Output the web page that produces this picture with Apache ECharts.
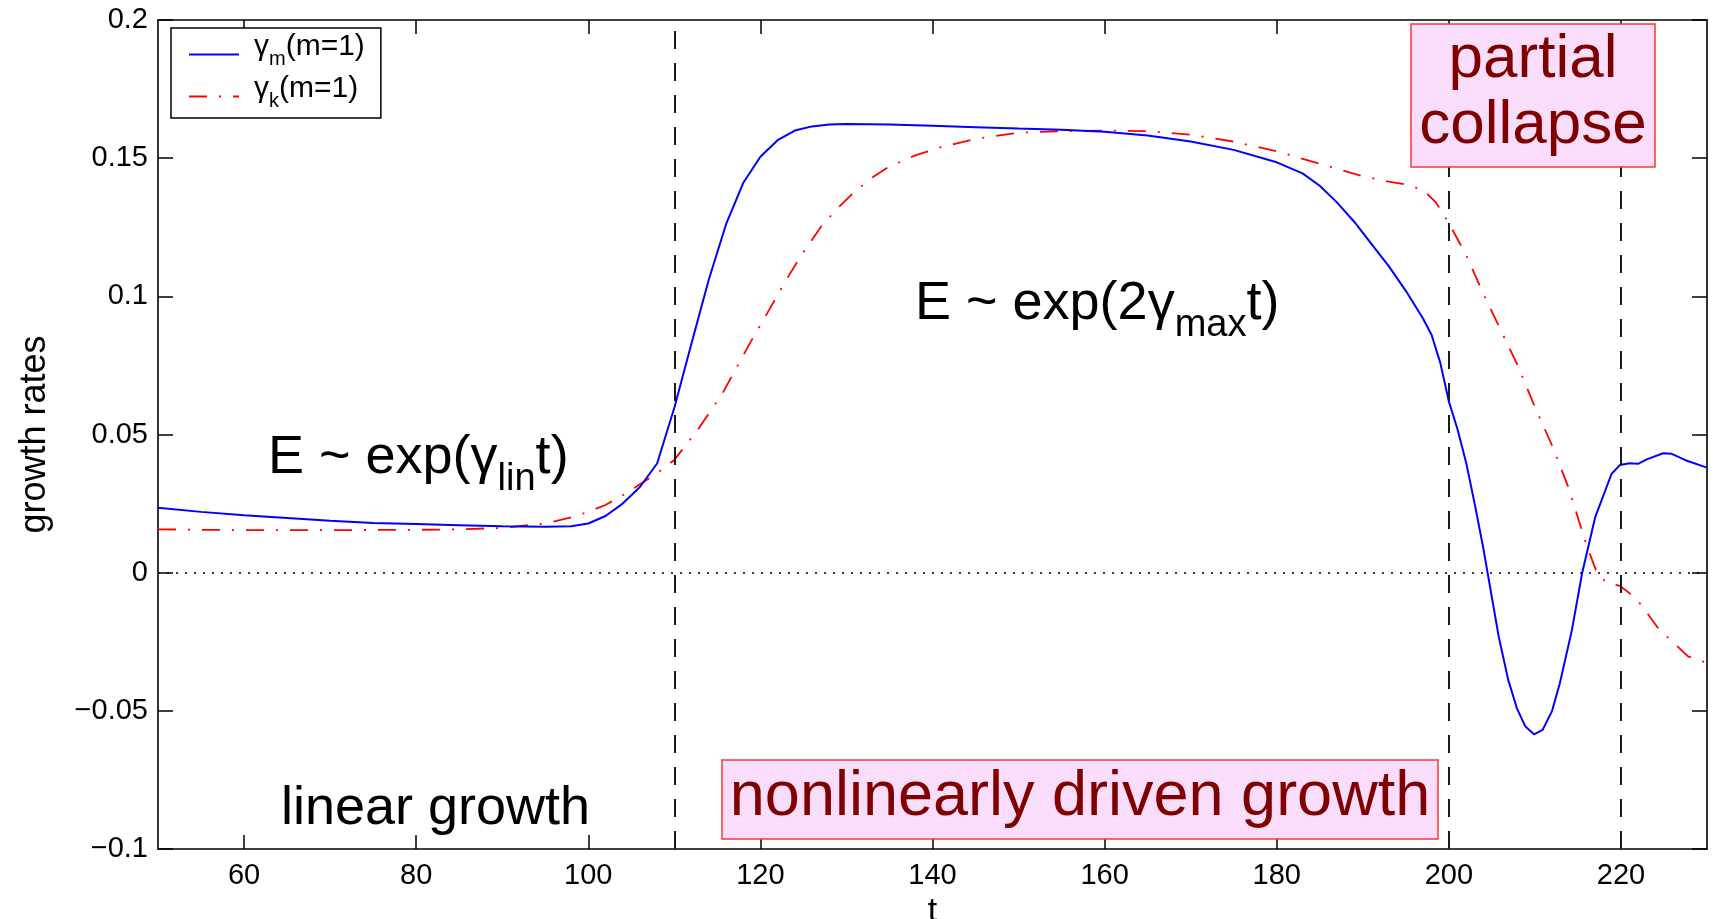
<!DOCTYPE html>
<html>
<head>
<meta charset="utf-8">
<script src="https://cdn.jsdelivr.net/npm/echarts@6/dist/echarts.min.js"></script>
<style>
  html, body { margin: 0; padding: 0; background: #fff; }
  #chart { width: 1715px; height: 919px; }
</style>
</head>
<body>
<div id="chart"></div>
<script>
// Growth rate of the m=1 mode, from the magnetic energy (gamma_m)
const tM = [50, 55, 60, 65, 70, 75, 80, 85, 90, 95, 98, 100, 102, 104, 106, 108, 110,
  112, 114, 116, 118, 120, 122, 124, 126, 128, 130, 135, 140, 145, 150, 155, 160,
  165, 170, 175, 180, 183, 185, 187, 189, 191, 193, 195, 197, 198, 199, 200, 201,
  202, 203, 204, 204.5, 205.8, 206.9, 207.9, 208.9, 209.9, 210.9, 212, 212.9,
  214.3, 215.5, 217, 218.9, 219.9, 221, 222, 223, 224.9, 225.9, 227.5, 230];
const gammaM = [0.0235, 0.0220, 0.0208, 0.0198, 0.0188, 0.0180, 0.0176, 0.0172, 0.0168,
  0.0166, 0.0168, 0.0178, 0.0205, 0.0250, 0.0310, 0.0395, 0.0597,
  0.0830, 0.1060, 0.1260, 0.1410, 0.1505, 0.1565, 0.1600, 0.1615, 0.1622, 0.1624,
  0.1622, 0.1617, 0.1612, 0.1607, 0.1603, 0.1596,
  0.1582, 0.1560, 0.1530, 0.1485, 0.1445, 0.1400, 0.1340, 0.1270, 0.1190, 0.1110,
  0.1020, 0.0920, 0.0860, 0.0760, 0.0620, 0.0520,
  0.0400, 0.0250, 0.0090, 0.0000, -0.0232, -0.0388, -0.0490, -0.0557, -0.0585,
  -0.0569, -0.0500, -0.0400,
  -0.0208, 0.0000, 0.0200, 0.0357, 0.0390, 0.0396, 0.0394, 0.0410, 0.0432, 0.0430,
  0.0407, 0.0380];

// Growth rate of the m=1 mode, from the kinetic energy (gamma_k)
const tK = [50, 55, 60, 70, 80, 85, 90, 95, 98, 100, 102, 104, 106, 108, 110, 112.9,
  115.6, 118.9, 121, 123, 125, 127, 129, 131, 133, 135, 138, 141, 145, 150, 155,
  160, 165, 170, 175, 180, 185, 190, 193, 195, 197, 198.5, 200, 202, 204, 206, 208,
  210, 212, 214, 215.1, 216, 217.2, 218.3, 219.9, 221.4, 222.4, 224.2, 225.3,
  227.8, 229.3, 230];
const gammaK = [0.0157, 0.0155, 0.0154, 0.0154, 0.0155, 0.0157, 0.0162, 0.0178, 0.0200,
  0.0220, 0.0245, 0.0280, 0.0320, 0.0360, 0.0408, 0.0525,
  0.0649, 0.0837, 0.0950, 0.1060, 0.1160, 0.1250, 0.1320, 0.1380, 0.1430, 0.1470,
  0.1510, 0.1540, 0.1570, 0.1592, 0.1598,
  0.1600, 0.1598, 0.1585, 0.1560, 0.1525, 0.1480, 0.1435, 0.1415, 0.1405, 0.1385,
  0.1340, 0.1265, 0.1150, 0.1010, 0.0880, 0.0750,
  0.0600, 0.0460, 0.0300, 0.0189, 0.0100, 0.0000, -0.0036, -0.0048, -0.0084, -0.0118,
  -0.0196, -0.0230, -0.0303, -0.0320, -0.0325];

// Phase boundaries (dashed verticals)
const phaseBounds = [110, 200, 220];

// Axis ticks
const xTicks = [60, 80, 100, 120, 140, 160, 180, 200, 220];
const yTickValues = [-0.1, -0.05, 0, 0.05, 0.1, 0.15, 0.2];
const yTickLabels = ['\u22120.1', '\u22120.05', '0', '0.05', '0.1', '0.15', '0.2'];

const FONT = '"Liberation Sans", Arial, Helvetica, sans-serif';
const chart = echarts.init(document.getElementById('chart'), null, { renderer: 'canvas' });

function yLabel(v) {
  for (let i = 0; i < yTickValues.length; i++) {
    if (Math.abs(v - yTickValues[i]) < 1e-9) return yTickLabels[i];
  }
  return '';
}

const axisLine = { show: true, onZero: false, lineStyle: { color: '#000', width: 1.6 } };
const xRange = { type: 'value', min: 50, max: 230 };
const yRange = { type: 'value', min: -0.1, max: 0.2, interval: 0.05 };
const tickStyle = { color: '#000', width: 1.5 };

const mainRich = {
  m: { fontSize: 54, fontFamily: FONT, color: '#000' },
  s: { fontSize: 38, fontFamily: FONT, color: '#000', padding: [43, 0, 0, 0] }
};

chart.setOption({
  animation: false,
  backgroundColor: '#fff',
  grid: { left: 158, right: 8, top: 20, bottom: 70, containLabel: false,
    outerBoundsMode: 'none' },
  xAxis: [
    Object.assign({}, xRange, {
      position: 'bottom',
      name: 't', nameLocation: 'middle', nameGap: 44,
      nameTextStyle: { fontSize: 34, fontFamily: FONT, color: '#000' },
      axisLine: axisLine,
      axisTick: { show: true, inside: true, length: 14, customValues: xTicks, lineStyle: tickStyle },
      axisLabel: { show: true, customValues: xTicks, margin: 12,
        fontSize: 29, fontFamily: FONT, color: '#000' },
      splitLine: { show: false }
    }),
    Object.assign({}, xRange, {
      position: 'top',
      axisLine: axisLine,
      axisTick: { show: true, inside: true, length: 14, customValues: xTicks, lineStyle: tickStyle },
      axisLabel: { show: false },
      splitLine: { show: false }
    })
  ],
  yAxis: [
    Object.assign({}, yRange, {
      position: 'left',
      name: 'growth rates', nameLocation: 'middle', nameGap: 105,
      nameTextStyle: { fontSize: 36, fontFamily: FONT, color: '#000' },
      axisLine: axisLine,
      axisTick: { show: true, inside: true, length: 15, lineStyle: tickStyle },
      axisLabel: { show: true, margin: 10, fontSize: 29, fontFamily: FONT,
        color: '#000', formatter: yLabel },
      splitLine: { show: false }
    }),
    Object.assign({}, yRange, {
      position: 'right',
      axisLine: axisLine,
      axisTick: { show: true, inside: true, length: 15, lineStyle: tickStyle },
      axisLabel: { show: false },
      splitLine: { show: false }
    })
  ],
  legend: {
    orient: 'vertical',
    left: 171, top: 28,
    padding: [4, 16, 7, 17],
    itemGap: 5,
    itemWidth: 50, itemHeight: 14,
    backgroundColor: '#fff',
    borderColor: '#000', borderWidth: 1.5, borderRadius: 0,
    itemStyle: { opacity: 0 },
    data: ['γm(m=1)', 'γk(m=1)'],
    formatter: function (name) {
      const sub = name.charAt(1);
      return '{g|γ}{s|' + sub + '}{g|(m=1)}';
    },
    textStyle: {
      padding: [0, 0, 8, 10],
      rich: {
        g: { fontSize: 30, fontFamily: FONT, color: '#000', verticalAlign: 'top' },
        s: { fontSize: 20, fontFamily: FONT, color: '#000', verticalAlign: 'top',
          padding: [17, 0, 0, 0] }
      }
    }
  },
  series: [
    {
      name: 'γm(m=1)',
      type: 'line',
      xAxisIndex: 0, yAxisIndex: 0,
      data: tM.map((t, i) => [t, gammaM[i]]),
      showSymbol: false, symbol: 'none',
      smooth: false,
      lineStyle: { color: '#0000ff', width: 2 },
      itemStyle: { color: '#0000ff' },
      z: 3,
      markLine: {
        silent: true, symbol: 'none', animation: false,
        label: { show: false },
        lineStyle: { color: '#1a1a1a', width: 2, type: [18, 14] },
        data: phaseBounds.map(v => ({ xAxis: v }))
      }
    },
    {
      name: 'γk(m=1)',
      type: 'line',
      xAxisIndex: 0, yAxisIndex: 0,
      data: tK.map((t, i) => [t, gammaK[i]]),
      showSymbol: false, symbol: 'none',
      smooth: false,
      lineStyle: { color: '#ff0000', width: 1.8, type: [18, 12, 2, 12] },
      itemStyle: { color: '#ff0000' },
      z: 2,
      markLine: {
        silent: true, symbol: 'none', animation: false,
        label: { show: false },
        lineStyle: { color: '#000', width: 1.5, type: [2, 7] },
        data: [{ yAxis: 0 }]
      }
    }
  ],
  graphic: [
    {
      type: 'text', x: 268, y: 458, z: 50,
      style: {
        text: '{m|E ~ exp(γ}{s|lin}{m|t)}',
        rich: mainRich, align: 'left', verticalAlign: 'middle'
      }
    },
    {
      type: 'text', x: 915, y: 304, z: 50,
      style: {
        text: '{m|E ~ exp(2γ}{s|max}{m|t)}',
        rich: mainRich, align: 'left', verticalAlign: 'middle'
      }
    },
    {
      type: 'text', x: 281, y: 809, z: 50,
      style: {
        text: 'linear growth', fontSize: 54, fontFamily: FONT, fill: '#000',
        align: 'left', verticalAlign: 'middle'
      }
    },
    {
      type: 'rect', z: 60,
      shape: { x: 722, y: 760, width: 716, height: 79 },
      style: { fill: '#f9ddfa', stroke: '#ff3535', lineWidth: 1.5 }
    },
    {
      type: 'text', x: 1080, y: 798, z: 61,
      style: {
        text: 'nonlinearly driven growth', fontSize: 63, fontFamily: FONT,
        fill: '#800000', align: 'center', verticalAlign: 'middle'
      }
    },
    {
      type: 'rect', z: 60,
      shape: { x: 1411, y: 24, width: 244, height: 143 },
      style: { fill: '#f9ddfa', stroke: '#ff3535', lineWidth: 1.5 }
    },
    {
      type: 'text', x: 1533, y: 93, z: 61,
      style: {
        text: 'partial\ncollapse', fontSize: 62, lineHeight: 66, fontFamily: FONT,
        fill: '#800000', align: 'center', verticalAlign: 'middle'
      }
    }
  ]
});
</script>
</body>
</html>
